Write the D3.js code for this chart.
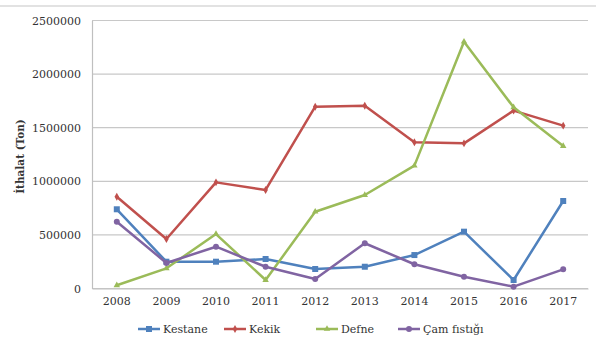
<!DOCTYPE html>
<html>
<head>
<meta charset="utf-8">
<script src="https://cdn.jsdelivr.net/npm/d3@7"></script>
<style>
  html, body { margin: 0; padding: 0; background: #fff; }
  svg { display: block; }
</style>
</head>
<body>
<svg id="chart" width="596" height="338"></svg>
<script>
// Yıllar ve ithalat miktarları (ton)
const years = ["2008", "2009", "2010", "2011", "2012", "2013", "2014", "2015", "2016", "2017"];
const kestane = [739000, 250000, 250000, 275000, 182000, 203000, 312000, 530000, 79000, 816000];
const kekik = [856000, 462000, 990000, 919000, 1696000, 1705000, 1364000, 1354000, 1659000, 1519000];
const defne = [30000, 188000, 508000, 79000, 716000, 872000, 1146000, 2302000, 1690000, 1329000];
const camFistigi = [623000, 238000, 390000, 203000, 89000, 422000, 226000, 110000, 17000, 179000];
const yTicks = [0, 500000, 1000000, 1500000, 2000000, 2500000];

const FONT = "DejaVu Serif";
const FS = 11;

const series = [
  { name: "Kestane", values: kestane, color: "#4f81bd", symbol: d3.symbolSquare, size: 36 },
  { name: "Kekik", values: kekik, color: "#c0504d", symbol: d3.symbolDiamond, size: 18 },
  { name: "Defne", values: defne, color: "#9bbb59", symbol: d3.symbolTriangle, size: 18 },
  { name: "Çam fıstığı", values: camFistigi, color: "#8064a2", symbol: d3.symbolCircle, size: 28 }
];

const svg = d3.select("#chart");
const margin = { left: 92, right: 8, top: 20.5, bottom: 49.5 };
const W = 596, H = 338;

// outer frame line at the top
svg.append("line").attr("x1", 0).attr("x2", W).attr("y1", 6).attr("y2", 6)
  .attr("stroke", "#d9d9d9").attr("stroke-width", 1.5);

const x = d3.scaleBand().domain(years).range([margin.left, W - margin.right]);
const y = d3.scaleLinear().domain([0, 2500000]).range([H - margin.bottom, margin.top]);

// horizontal gridlines
svg.append("g").selectAll("line").data(yTicks).join("line")
  .attr("x1", margin.left).attr("x2", W - margin.right)
  .attr("y1", d => y(d)).attr("y2", d => y(d))
  .attr("stroke", "#c8c8c8").attr("stroke-width", 1.2);

// y axis
const yAxis = svg.append("g").attr("transform", `translate(${margin.left},0)`)
  .call(d3.axisLeft(y).tickValues(yTicks).tickFormat(d3.format("d")).tickSize(0).tickPadding(11));
yAxis.attr("font-family", FONT);
yAxis.select(".domain").attr("stroke", "#bfbfbf").attr("stroke-width", 1.2);
yAxis.selectAll("text").attr("font-size", FS).attr("fill", "#333")
  .style("font-family", FONT);

// x axis
const xAxis = svg.append("g").attr("transform", `translate(0,${y(0)})`)
  .call(d3.axisBottom(x).tickSize(0).tickPadding(9));
xAxis.attr("font-family", FONT);
xAxis.select(".domain").attr("stroke", "#bfbfbf").attr("stroke-width", 1.2);
xAxis.selectAll("text").attr("font-size", FS).attr("fill", "#333")
  .style("font-family", FONT);

// y axis title
svg.append("text")
  .attr("transform", `translate(24,${(margin.top + y(0)) / 2 + 2}) rotate(-90)`)
  .attr("text-anchor", "middle")
  .style("font-family", FONT)
  .attr("font-size", 10.5).attr("font-weight", "bold").attr("fill", "#333")
  .text("İthalat (Ton)");

const line = d3.line().x((d, i) => x(years[i]) + x.bandwidth() / 2).y(d => y(d));

series.forEach(s => {
  const g = svg.append("g");
  g.append("path").datum(s.values)
    .attr("d", line).attr("fill", "none")
    .attr("stroke", s.color).attr("stroke-width", 2.5).attr("stroke-linejoin", "round");
  g.selectAll("path.m").data(s.values).join("path").attr("class", "m")
    .attr("transform", (d, i) => `translate(${x(years[i]) + x.bandwidth() / 2},${y(d)})`)
    .attr("d", d3.symbol().type(s.symbol).size(s.size))
    .attr("fill", s.color);
});

// legend
const legendX = [138, 224, 316, 398];
const legend = svg.append("g").selectAll("g").data(series).join("g")
  .attr("transform", (d, i) => `translate(${legendX[i]},329)`);
legend.append("line").attr("x1", 0).attr("x2", 22).attr("y1", 0).attr("y2", 0)
  .attr("stroke", d => d.color).attr("stroke-width", 2.5);
legend.append("path").attr("transform", "translate(11,0)")
  .attr("d", d => d3.symbol().type(d.symbol).size(d.size)())
  .attr("fill", d => d.color);
legend.append("text").attr("x", 25).attr("y", 4)
  .style("font-family", FONT)
  .attr("font-size", FS).attr("fill", "#333")
  .text(d => d.name);
</script>
</body>
</html>
